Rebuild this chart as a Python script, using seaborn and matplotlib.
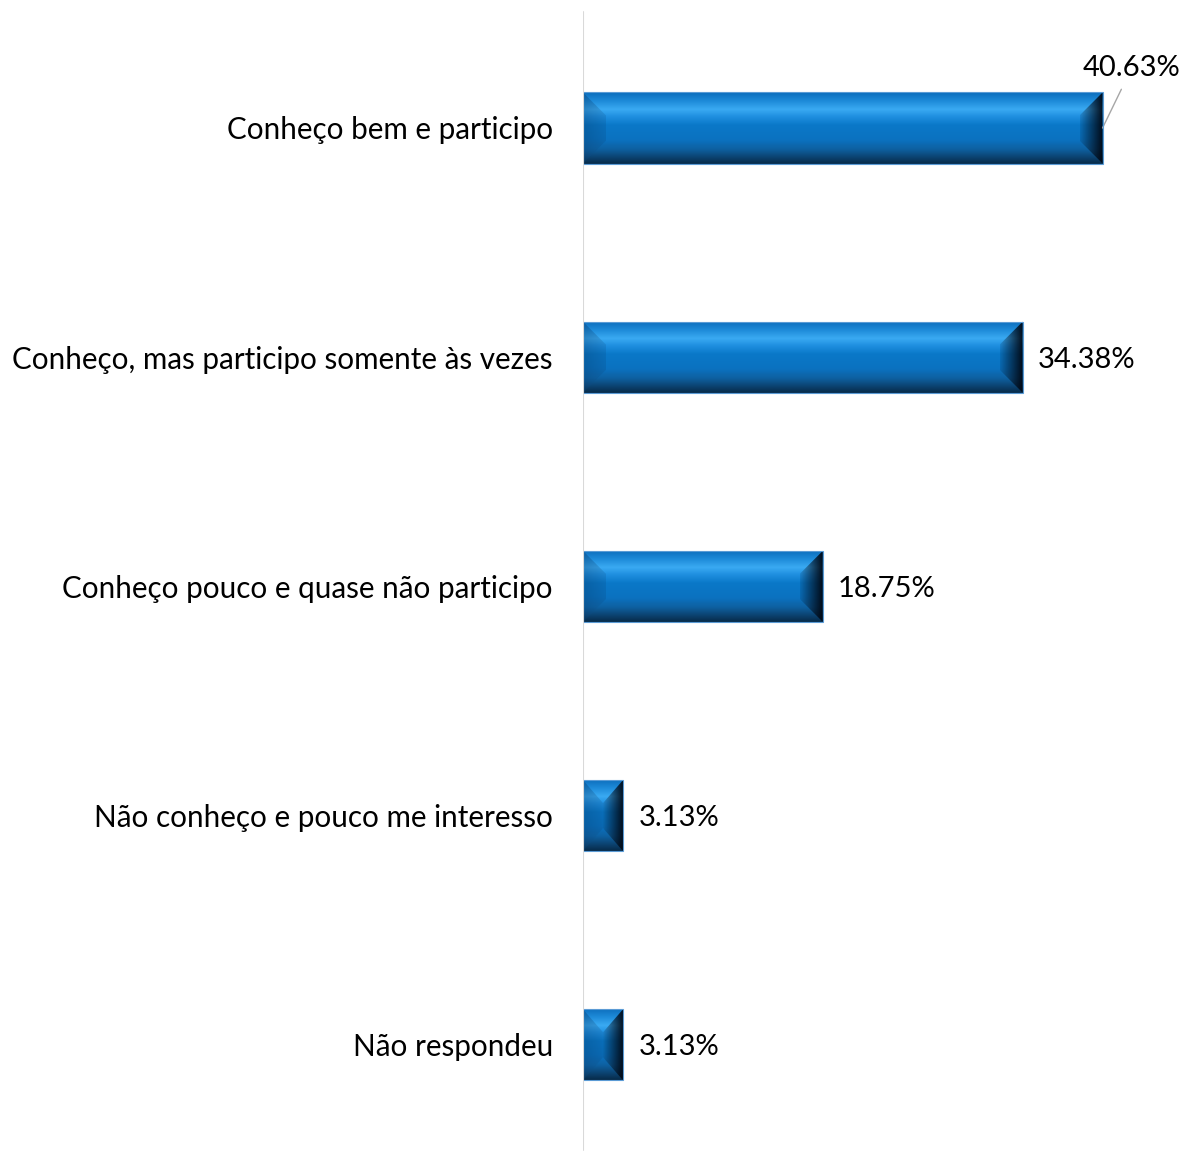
import numpy as np
import matplotlib
matplotlib.use("Agg")
import matplotlib.pyplot as plt
from matplotlib.colors import LinearSegmentedColormap
from matplotlib.patches import Polygon
import seaborn as sns

# chart data
categories = [
    "Conheço bem e participo",
    "Conheço, mas participo somente às vezes",
    "Conheço pouco e quase não participo",
    "Não conheço e pouco me interesso",
    "Não respondeu",
]
values = [40.63, 34.38, 18.75, 3.13, 3.13]
value_labels = ["40.63%", "34.38%", "18.75%", "3.13%", "3.13%"]

sns.set_theme(style="white")
plt.rcParams["font.family"] = ["Lato", "DejaVu Sans"]

W, H = 1184, 1151
fig = plt.figure(figsize=(W / 100, H / 100), dpi=100)
ax = fig.add_axes([583 / W, 0, (W - 583) / W, 1])

sns.barplot(x=values, y=categories, orient="h", width=0.31, color="#0a78c8",
            edgecolor="#5b9bd5", linewidth=0.8, ax=ax)

# pixel layout: first bar centre at y=128 px, pitch 229.2 px
pitch = 229.2
ax.set_ylim((H - 128) / pitch, -128 / pitch)
ax.set_xlim(0, 47)
fig.canvas.draw()

px_x = ax.transData.transform((1, 0))[0] - ax.transData.transform((0, 0))[0]
px_y = abs(ax.transData.transform((0, 1))[1] - ax.transData.transform((0, 0))[1])

face_cmap = LinearSegmentedColormap.from_list("face", [
    (0.0, "#0b6cbb"), (0.12, "#1d8ad8"), (0.24, "#3aaaf2"), (0.34, "#1f8fe0"),
    (0.46, "#0a78c8"), (0.66, "#0b72c0"), (0.8, "#1068ac"), (0.9, "#0f5186"),
    (1.0, "#0a3558")])


def grad_fill(poly_pts, rgba, extent):
    poly = Polygon(poly_pts, closed=True, fill=False, lw=0)
    ax.add_patch(poly)
    im = ax.imshow(rgba, extent=extent, aspect="auto", interpolation="bilinear", zorder=3)
    im.set_clip_path(poly)


def ramp(n, a0, a1, color, horizontal=True):
    a = np.linspace(a0, a1, n)
    arr = np.zeros((1, n, 4) if horizontal else (n, 1, 4))
    arr[..., :3] = color
    arr[..., 3] = a if horizontal else a[:, None]
    return arr


for p in ax.patches:
    if not hasattr(p, "get_width") or p.get_width() <= 0:
        continue
    x0, w = p.get_x(), p.get_width()
    y0, h = p.get_y(), p.get_height()
    x1, y1 = x0 + w, y0 + h  # y0 is top (inverted axis)
    bx = min(23 / px_x, w / 2)
    by = 23 / px_y
    xm0, xm1 = x0 + bx, x1 - bx

    # body: vertical gradient
    grad = face_cmap(np.linspace(0, 1, 256))[:, None, :]
    grad_fill([(x0, y0), (x1, y0), (x1, y1), (x0, y1)], grad, (x0, x1, y1, y0))

    # bottom bevel darkening
    grad_fill([(x0, y1), (x1, y1), (xm1, y1 - by), (xm0, y1 - by)],
              ramp(64, 0.0, 0.25, (0, 0.05, 0.12), horizontal=False),
              (x0, x1, y1, y1 - by))
    # left bevel
    grad_fill([(x0, y0), (xm0, y0 + by), (xm0, y1 - by), (x0, y1)],
              ramp(64, 0.28, 0.12, (0.02, 0.15, 0.3)), (x0, xm0, y1, y0))
    # right bevel, dark towards the edge
    grad_fill([(x1, y0), (xm1, y0 + by), (xm1, y1 - by), (x1, y1)],
              ramp(64, 0.1, 0.95, (0, 0.02, 0.06)), (xm1, x1, y1, y0))
    p.set_zorder(4)
    p.set_facecolor("none")

# value labels
for i, (v, lab) in enumerate(zip(values, value_labels)):
    if i == 0:
        ax.annotate(lab, xy=(v, i), xytext=(21, 45), textcoords="offset points",
                    ha="center", va="center_baseline", fontsize=21, color="black",
                    arrowprops=dict(arrowstyle="-", color="#a6a6a6", lw=1,
                                    shrinkA=4, shrinkB=0), annotation_clip=False)
    else:
        ax.annotate(lab, xy=(v, i), xytext=(11, 0), textcoords="offset points",
                    ha="left", va="center_baseline", fontsize=21, color="black",
                    annotation_clip=False)

ax.axvline(0, ymin=1 - 1150 / H, ymax=1 - 12 / H, color="#d9d9d9", lw=1.5, zorder=5)
for s in ax.spines.values():
    s.set_visible(False)
ax.set_xticks([])
ax.set_xlabel("")
ax.set_ylabel("")
ax.tick_params(axis="y", length=0, pad=21.6, labelsize=21.3, labelcolor="black")
ax.set_ylim((H - 128) / pitch, -128 / pitch)
ax.set_xlim(0, 47)

fig.savefig("out.png", dpi=100, facecolor="white")
